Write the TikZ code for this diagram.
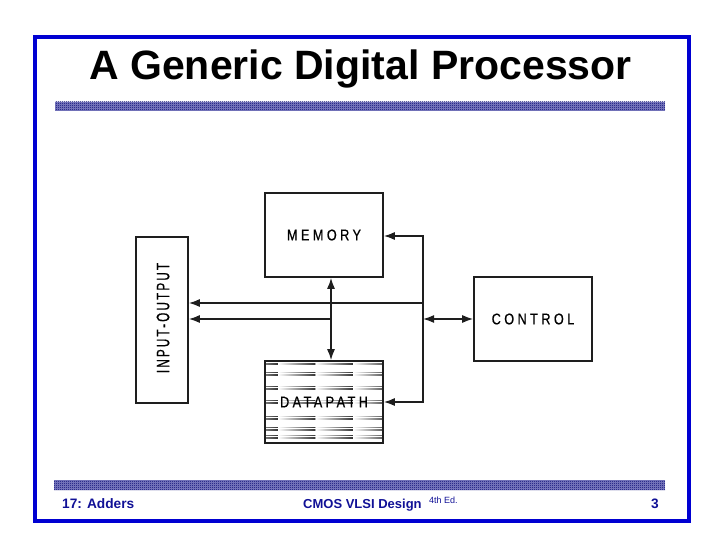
\documentclass[tikz,border=0pt]{standalone}
\usepackage{fontspec}
\setmainfont{Liberation Sans}
\newfontfamily\lblfont[FakeStretch=0.82,LetterSpace=22,FakeBold=0.6]{Liberation Sans}
\newfontfamily\iofont[FakeStretch=0.65,LetterSpace=12,FakeBold=0.6]{Liberation Sans}
\usetikzlibrary{arrows.meta,patterns}
\pgfdeclarepatternformonly{finecheck}{\pgfpointorigin}{\pgfqpoint{2pt}{2pt}}{\pgfqpoint{2pt}{2pt}}{%
  \pgfpathrectangle{\pgfpointorigin}{\pgfqpoint{1pt}{1pt}}%
  \pgfpathrectangle{\pgfqpoint{1pt}{1pt}}{\pgfqpoint{1pt}{1pt}}%
  \pgfusepath{fill}}
\definecolor{frameblue}{RGB}{0,0,210}
\definecolor{footblue}{RGB}{16,16,150}
\definecolor{checkblue}{RGB}{0,0,110}
\definecolor{checkbase}{RGB}{130,130,195}
\definecolor{ink}{RGB}{30,30,30}
\tikzset{
  blk/.style={draw=ink, line width=1.6pt, inner sep=0pt, fill=none},
  conn/.style={draw=ink, line width=1.5pt},
  tip/.style={-{Latex[length=11pt,width=8pt]}},
  dtip/.style={{Latex[length=11pt,width=8pt]}-{Latex[length=11pt,width=8pt]}},
  lbl/.style={font=\lblfont\fontsize{15.5}{15.5}\selectfont, text=black},
  checkbar/.style={pattern=finecheck, pattern color=checkblue},
  foot/.style={text=footblue, anchor=base west, inner sep=0pt}
}
\begin{document}
\begin{tikzpicture}[x=1pt,y=-1pt]
\useasboundingbox (0,0) rectangle (720,540);
% frame
\draw[frameblue, line width=3.5pt] (35,37) rectangle (689,521);
% title
\node[anchor=base, inner sep=0pt, font=\fontsize{41}{41}\selectfont\bfseries] (title) at (360.5,80) {A Generic Digital Processor};
% checker bars
\fill[checkbase] (55,102) rectangle (665,111);
\fill[checkbar] (55,102) rectangle (665,111);
\fill[checkbase] (54,480) rectangle (665,490);
\fill[checkbar] (54,480) rectangle (665,490);
% datapath stripes
\begin{scope}
  \clip (265,361) rectangle (383,443);
  \foreach \yy in {363,374,388,402,418,429,437} {
    \foreach \xx in {240.5,278,315.5,353} {
      \shade[left color=white, right color=black!80] (\xx,\yy-2) rectangle (\xx+37.5,\yy-1.1);
      \shade[left color=white, right color=black!80] (\xx,\yy+0.6) rectangle (\xx+37.5,\yy+1.5);
    }
  }
\end{scope}
% blocks
\node[blk, minimum width=52pt, minimum height=166pt] (io) at (162,320) {};
\node[lbl, font=\iofont\fontsize{18}{18}\selectfont, rotate=90] (iolbl) at (163,318) {INPUT-OUTPUT};
\node[blk, minimum width=118pt, minimum height=84pt, lbl] (mem) at (324,235) {MEMORY};
\node[blk, minimum width=118pt, minimum height=82pt, lbl] (dp) at (324,402) {DATAPATH};
\node[blk, minimum width=118pt, minimum height=84pt, lbl] (ctrl) at (533,319) {CONTROL};
% connectors
\coordinate (b1) at (423,236);
\coordinate (b2) at (423,402);
\coordinate (b3) at (423,319);
\coordinate (t1) at (423,303);
\coordinate (t2) at (331,319);
\draw[conn, line cap=rect] (b1) -- (b2);
\draw[conn, tip] (b1) -- (mem.east |- b1);
\draw[conn, tip] (b2) -- (dp.east |- b2);
\draw[conn, tip] (t1) -- (io.east |- t1);
\draw[conn, tip] (t2) -- (io.east |- t2);
\draw[conn, dtip] (mem.south -| t2) -- (dp.north -| t2);
\draw[conn, dtip] (b3) -- (ctrl.west |- b3);
% footer
\node[foot, font=\fontsize{13.7}{14}\selectfont\bfseries] (f1) at (62,508.5) {17: Adders};
\node[foot, font=\fontsize{13}{14}\selectfont\bfseries] (f2) at (303,508.5) {CMOS VLSI Design};
\node[foot, font=\fontsize{9}{9}\selectfont] (f3) at (429,503.5) {4th Ed.};
\node[foot, font=\fontsize{13.7}{14}\selectfont\bfseries] (f4) at (651,508.5) {3};
\end{tikzpicture}
\end{document}
